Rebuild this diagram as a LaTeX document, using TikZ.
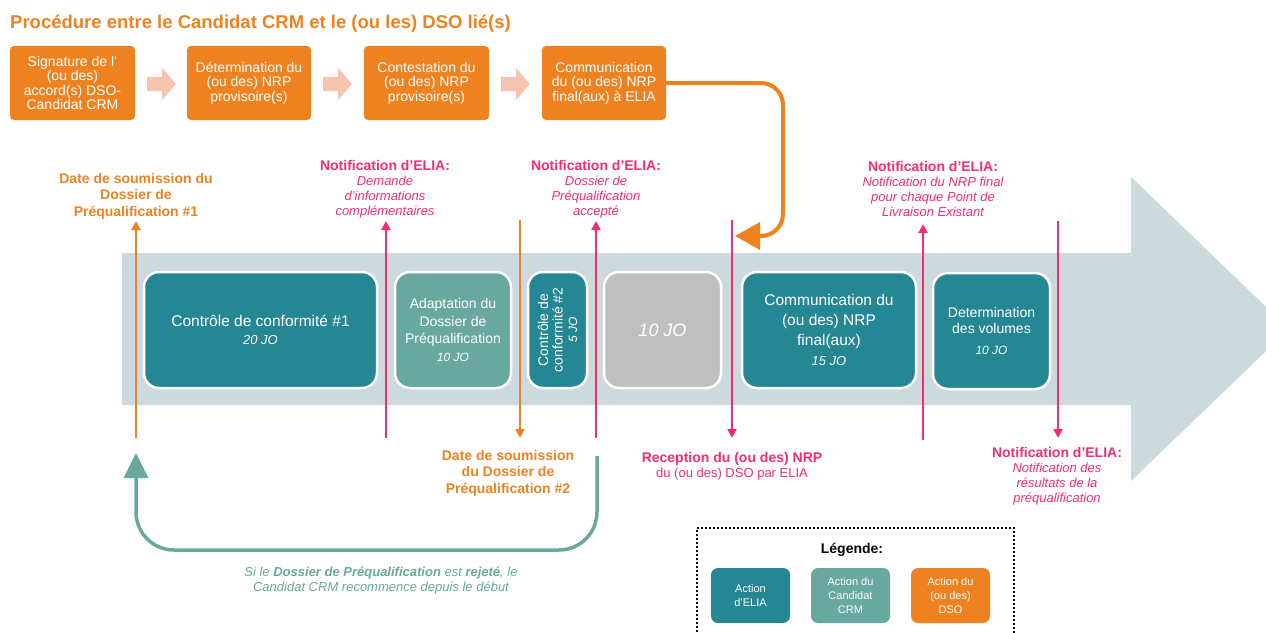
\documentclass[tikz,border=0pt]{standalone}
\usepackage{fontspec}
\setmainfont{Liberation Sans}
\usetikzlibrary{arrows.meta}
\definecolor{corange}{RGB}{238,130,33}
\definecolor{cpink}{RGB}{245,45,110}
\definecolor{cteal}{RGB}{37,135,148}
\definecolor{clteal}{RGB}{104,168,158}
\definecolor{cgrey}{RGB}{191,191,191}
\definecolor{cband}{RGB}{204,217,221}
\definecolor{cpeach}{RGB}{246,196,174}
\begin{document}
\begin{tikzpicture}[x=1pt,y=-1pt,
 topbox/.style={fill=corange, rounded corners=4pt, minimum width=125pt, minimum height=74pt, text=white, align=center, inner sep=1pt, font=\fontsize{14}{14.5}\selectfont},
 phase/.style={draw=white, line width=2.5pt, rounded corners=15pt, text=white, align=center, inner sep=0pt, minimum height=116pt, font=\fontsize{14}{17.5}\selectfont},
 elia/.style={phase, fill=cteal},
 cand/.style={phase, fill=clteal},
 idle/.style={phase, fill=cgrey},
 vl/.style={line width=2.5pt},
 tip/.style={-{Triangle[length=9pt,width=9pt]}},
 lab/.style={align=center, inner sep=0pt, font=\fontsize{13}{15}\selectfont},
 boldlab/.style={align=center, inner sep=0pt, font=\bfseries\fontsize{14}{16.5}\selectfont},
 itlab/.style={align=center, inner sep=0pt, font=\itshape\fontsize{13}{15}\selectfont},
 legbox/.style={rounded corners=7pt, minimum width=79pt, minimum height=55pt, text=white, align=center, inner sep=0pt, font=\fontsize{11}{14}\selectfont}]
\useasboundingbox (0,0) rectangle (1266,632);
\clip (0,0) rectangle (1266,632);
% title
\node[anchor=base west, inner sep=0, text=corange, font=\bfseries\fontsize{18.5}{20}\selectfont] (title) at (10,28) {Procédure entre le Candidat CRM et le (ou les) DSO lié(s)};
% grey band arrow
\fill[cband] (122,253) -- (1131,253) -- (1131,177) -- (1289,329) -- (1131,481) -- (1131,405) -- (122,405) -- cycle;
% top boxes
\node[topbox] (b1) at (72.5,83) {Signature de l’\\(ou des)\\accord(s) DSO-\\Candidat CRM};
\node[topbox, minimum width=124pt] (b2) at (249,83) {Détermination du\\(ou des) NRP\\provisoire(s)};
\node[topbox] (b3) at (426.5,83) {Contestation du\\(ou des) NRP\\provisoire(s)};
\node[topbox, minimum width=124pt] (b4) at (604,83) {Communication\\du (ou des) NRP\\final(aux) à ELIA};
\foreach \x in {147,323,501} {
  \fill[cpeach] (\x,77) -- ++(15,0) -- ++(0,-9) -- ++(14,16) -- ++(-14,16) -- ++(0,-9) -- ++(-15,0) -- cycle;
}
% phases
\node[elia, minimum width=233pt, font=\fontsize{15.5}{18}\selectfont] (p1) at (260.5,330) {Contrôle de conformité \#1\\{\itshape\fontsize{13}{15}\selectfont 20 JO}};
\node[cand, minimum width=116pt] (p2) at (453,330) {Adaptation du\\Dossier de\\Préqualification\\{\itshape\fontsize{12}{15}\selectfont 10 JO}};
\node[elia, rotate=90, minimum width=116pt, minimum height=59pt, font=\fontsize{14}{14.5}\selectfont] (p3) at (557.5,330) {Contrôle de\\conformité \#2\\{\itshape\fontsize{12}{14}\selectfont 5 JO}};
\node[idle, minimum width=117pt] (p4) at (662.5,330) {{\itshape\fontsize{18}{20}\selectfont 10 JO}};
\node[elia, minimum width=174pt, font=\fontsize{15.5}{20}\selectfont] (p5) at (829,330) {Communication du\\(ou des) NRP\\final(aux)\\{\itshape\fontsize{13}{15}\selectfont 15 JO}};
\node[elia, minimum width=117pt, font=\fontsize{14}{16}\selectfont] (p6) at (991.5,331) {Determination\\des volumes\\[5pt]{\itshape\fontsize{12}{14}\selectfont 10 JO}};
% vertical markers
\coordinate (v1t) at (136,221); \coordinate (v1b) at (136,438);
\coordinate (v2t) at (386,221); \coordinate (v2b) at (386,438);
\coordinate (v3t) at (520,220); \coordinate (v3b) at (520,438);
\coordinate (v4t) at (596,221); \coordinate (v4b) at (596,438);
\coordinate (v5t) at (732,220); \coordinate (v5b) at (732,438);
\coordinate (v6t) at (923,224); \coordinate (v6b) at (923,440);
\coordinate (v7t) at (1058,221); \coordinate (v7b) at (1058,438);
\draw[vl, corange, tip] (v1b) -- (v1t);
\draw[vl, cpink, tip] (v2b) -- (v2t);
\draw[vl, corange, tip] (v3t) -- (v3b);
\draw[vl, cpink, tip] (v4b) -- (v4t);
\draw[vl, cpink, tip] (v5t) -- (v5b);
\draw[vl, cpink, tip] (v6b) -- (v6t);
\draw[vl, cpink, tip] (v7t) -- (v7b);
% labels top
\node[boldlab, text=corange] (d1) at (136,196) {Date de soumission du\\Dossier de\\Préqualification \#1};
\node[itlab, text=cpink] (n1) at (385,189) {{\upshape\bfseries\fontsize{14}{15}\selectfont Notification d’ELIA:}\\Demande\\d’informations\\complémentaires};
\node[itlab, text=cpink] (n2) at (596,189) {{\upshape\bfseries\fontsize{14}{15}\selectfont Notification d’ELIA:}\\Dossier de\\Préqualification\\accepté};
\node[itlab, text=cpink] (n3) at (933,189) {{\upshape\bfseries\fontsize{14}{15}\selectfont Notification d’ELIA:}\\Notification du NRP final\\pour chaque Point de\\Livraison Existant};
% labels bottom
\node[boldlab, text=corange] (d2) at (508,473) {Date de soumission\\du Dossier de\\Préqualification \#2};
\node[lab, text=cpink] (r1) at (732,466) {{\bfseries\fontsize{14}{15}\selectfont Reception du (ou des) NRP}\\du (ou des) DSO par ELIA};
\node[itlab, text=cpink] (n4) at (1057,476) {{\upshape\bfseries\fontsize{14}{15}\selectfont Notification d’ELIA:}\\Notification des\\résultats de la\\préqualification};
% orange connector from DSO procedure
\coordinate (oa) at (735,236);
\draw[corange, line width=4pt, rounded corners=22pt, -{Triangle[length=25pt,width=27pt]}] (b4.east) -- (783,83) -- (783,236) -- (oa);
% teal return loop
\coordinate (rs) at (597,456); \coordinate (re) at (136,453);
\draw[clteal, line width=3.5pt, rounded corners=38pt, -{Triangle[length=25pt,width=24pt]}] (rs) -- (597,550) -- (136,550) -- (re);
\node[itlab, text=clteal] (rt) at (381,581) {Si le \textbf{Dossier de Préqualification} est \textbf{rejeté}, le\\Candidat CRM recommence depuis le début};
% legend
\node[draw=black, line width=2pt, dash pattern=on 2pt off 2pt, minimum width=317pt, minimum height=140pt, anchor=north west, inner sep=0] (leg) at (696,527) {};
\node[inner sep=0, font=\bfseries\fontsize{14}{16}\selectfont] (legt) at (852,550) {Légende:};
\node[legbox, fill=cteal] (l1) at (750.5,595.5) {Action\\d’ELIA};
\node[legbox, fill=clteal] (l2) at (850.5,595.5) {Action du\\Candidat\\CRM};
\node[legbox, fill=corange] (l3) at (950.5,595.5) {Action du\\(ou des)\\DSO};
\end{tikzpicture}
\end{document}
